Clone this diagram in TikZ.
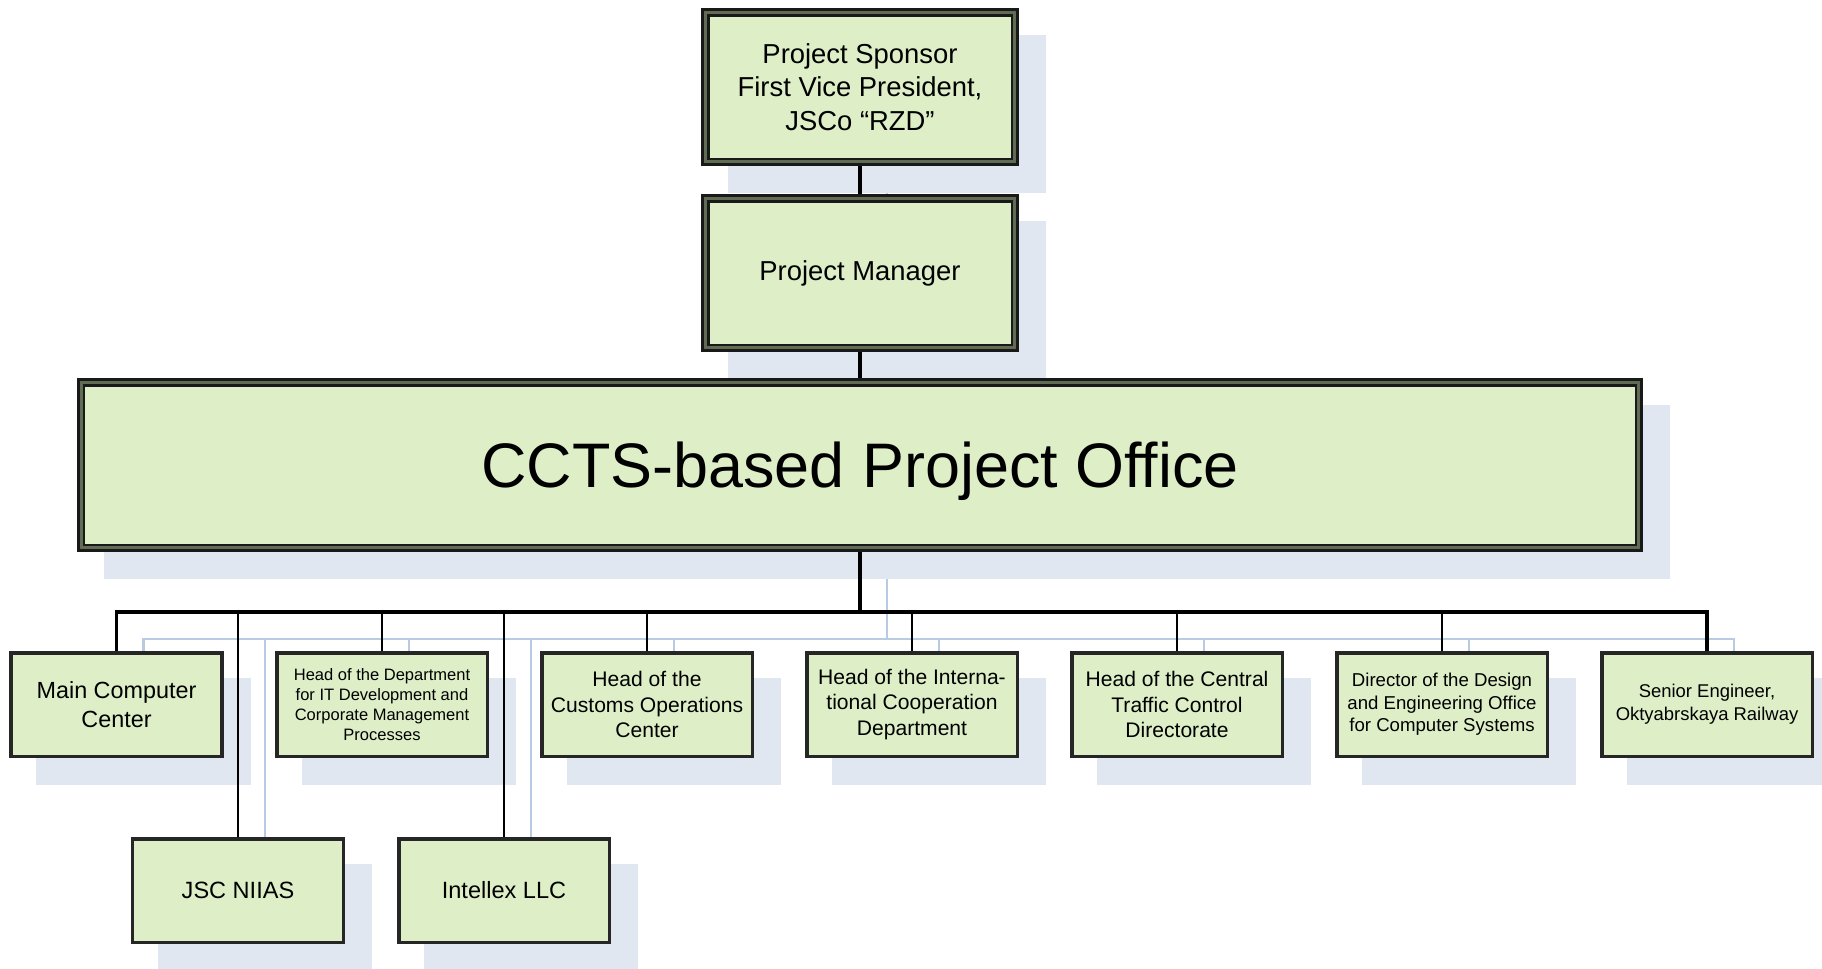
\documentclass[tikz,border=0pt]{standalone}
\usepackage{fontspec}
\setmainfont{Liberation Sans}
\usepackage{xcolor}
\usetikzlibrary{positioning, backgrounds, calc}
\definecolor{boxgreen}{RGB}{222,239,200}
\definecolor{rimolive}{RGB}{96,108,84}
\definecolor{shadowblue}{RGB}{224,231,241}
\definecolor{ghostblue}{RGB}{184,203,227}
\newcommand{\fsz}[2]{\fontsize{#1}{#2}\selectfont}

\tikzset{
  topbox/.style={draw=black!90, double=rimolive, line width=0.55mm, double distance=0.6mm,
    fill=boxgreen, inner sep=0pt, outer sep=0.85mm, align=center},
  unitbox/.style={draw=black!85, line width=0.7mm, fill=boxgreen, inner sep=0pt,
    outer sep=0.35mm, minimum width=42.1mm, minimum height=20.7mm, align=center},
  trunk/.style={line width=0.7mm},
  branch/.style={line width=0.55mm},
}

% links of the chart, drawn once in black and once as the faint copy
\newcommand{\orglinks}{%
  \draw[trunk] (sponsor.south) -- (pm.north);
  \draw[trunk] (pm.south) -- (office.north);
  \draw[trunk] (office.south) -- (bus);
  \draw[trunk] (mcc.north) |- (bus) -| (senior.north);
  \foreach \nd in {dept,customs,intl,traffic,design,niias,intellex}
    \draw[branch] (\nd.north |- bus) -- (\nd.north);
}

\begin{document}
\begin{tikzpicture}[x=0.2mm, y=-0.2mm]
  \useasboundingbox (0,0) rectangle (1822,968);

  % top of the chart
  \node[topbox, minimum width=61.9mm, minimum height=29.9mm, font=\fsz{15.6}{19.2}] (sponsor) at (860,87)
    {Project Sponsor\\First Vice President,\\JSCo “RZD”};
  \node[topbox, minimum width=61.9mm, minimum height=29.9mm, font=\fsz{15.6}{19.2}] (pm) at (860,273)
    {Project Manager};
  \node[topbox, minimum width=311.5mm, minimum height=33.1mm, text depth=0pt, font=\fsz{35.8}{40}] (office) at (860,465)
    {CCTS-based Project Office};

  \coordinate (bus) at (860,612);

  % first row
  \node[unitbox, font=\fsz{13.3}{16.5}] (mcc) at (116.5,704.5) {Main Computer\\Center};
  \node[unitbox, font=\fsz{9.4}{11.3}] (dept) at (382,704.5)
    {Head of the Department\\for IT Development and\\Corporate Management\\Processes};
  \node[unitbox, font=\fsz{12}{14.6}] (customs) at (647,704.5) {Head of the\\Customs Operations\\Center};
  \node[unitbox, font=\fsz{12}{14.6}] (intl) at (912,704.5) {Head of the Interna-\\tional Cooperation\\Department};
  \node[unitbox, font=\fsz{12}{14.6}] (traffic) at (1177,704.5) {Head of the Central\\Traffic Control\\Directorate};
  \node[unitbox, font=\fsz{10.6}{12.9}] (design) at (1442,704.5)
    {Director of the Design\\and Engineering Office\\for Computer Systems};
  \node[unitbox, font=\fsz{10.5}{13.1}] (senior) at (1707,704.5) {Senior Engineer,\\Oktyabrskaya Railway};

  % second row
  \node[unitbox, font=\fsz{13.4}{16}] (niias) at (238,890.5) {JSC NIIAS};
  \node[unitbox, font=\fsz{13.4}{16}] (intellex) at (504,890.5) {Intellex LLC};

  \orglinks

  % shadow copy
  \begin{scope}[on background layer]
    \foreach \nd in {sponsor,pm,office,mcc,dept,customs,intl,traffic,design,senior,niias,intellex}
      \fill[shadowblue] ([shift={(27,27)}]\nd.north west) rectangle ([shift={(27,27)}]\nd.south east);
    \begin{scope}[ghostblue, transform canvas={shift={(27,27)}},
        trunk/.style={line width=0.45mm}, branch/.style={line width=0.4mm}]
      \orglinks
    \end{scope}
  \end{scope}
\end{tikzpicture}
\end{document}
